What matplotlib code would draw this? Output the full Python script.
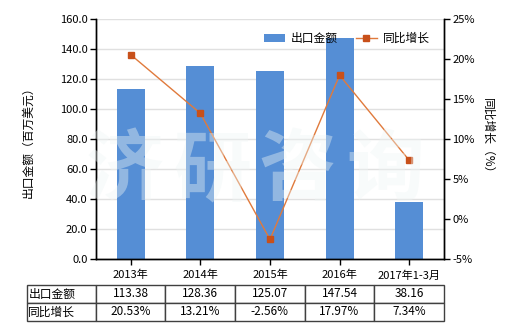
import matplotlib
matplotlib.use("Agg")
import matplotlib.pyplot as plt
import numpy as np

plt.rcParams['font.family'] = ['Noto Sans CJK SC', 'DejaVu Sans']

# data
years = ['2013年', '2014年', '2015年', '2016年', '2017年1-3月']
export_value = [113.38, 128.36, 125.07, 147.54, 38.16]
yoy_growth = [20.53, 13.21, -2.56, 17.97, 7.34]
value_labels = ['113.38', '128.36', '125.07', '147.54', '38.16']
growth_labels = ['20.53%', '13.21%', '-2.56%', '17.97%', '7.34%']

bar_color = '#558ED5'
line_color = '#E07A3C'
marker_color = '#C8501A'

fig = plt.figure(figsize=(5.2, 3.3), dpi=100)
ax = fig.add_axes([0.1846, 0.2152, 0.6692, 0.7272])
ax2 = ax.twinx()

x = np.arange(len(years))
bars = ax.bar(x, export_value, width=0.4, color=bar_color, zorder=2,
              label='出口金额')
ax.set_ylim(0, 160)
ax.set_yticks(np.arange(0, 161, 20))
ax.set_yticklabels([f'{v:.1f}' for v in np.arange(0, 161, 20)])
ax.set_xlim(-0.5, len(years) - 0.5)
ax.set_xticks(x)
ax.set_xticklabels(years)
ax.yaxis.grid(True, color='#E0E0E0', linewidth=1, zorder=0)
ax.set_axisbelow(True)

line, = ax2.plot(x, yoy_growth, color=line_color, linewidth=1,
                 marker='s', markersize=5, markerfacecolor=marker_color,
                 markeredgecolor=marker_color, zorder=3, label='同比增长')
ax2.set_ylim(-5, 25)
ax2.set_yticks(np.arange(-5, 26, 5))
ax2.set_yticklabels([f'{v}%' for v in range(-5, 26, 5)])

for a in (ax, ax2):
    a.spines['top'].set_visible(False)
    for s in a.spines.values():
        s.set_linewidth(1)
        s.set_color('black')
    a.tick_params(labelsize=8, length=4, width=1, colors='black')
ax.tick_params(axis='x', pad=4)
ax.tick_params(axis='y', pad=2)
ax2.tick_params(axis='y', pad=2)

ax.set_ylabel('出口金额（百万美元）', fontsize=8.5, labelpad=18)
ax2.set_ylabel('同比增长（%）', fontsize=8.5, rotation=270, labelpad=14)

# legend
ax.legend(handles=[bars, line], loc='upper right', bbox_to_anchor=(0.99, 0.99),
          ncol=2, frameon=False, fontsize=8.5, handlelength=1.8,
          handletextpad=0.5, columnspacing=1.5)

# data table under the axes
cells = [['出口金额'] + value_labels, ['同比增长'] + growth_labels]
tbl = ax.table(cellText=cells, cellLoc='center',
               bbox=[-0.198, -0.258, 1.198, 0.15],
               colWidths=[69] + [70] * len(years))
tbl.auto_set_font_size(False)
tbl.set_fontsize(8.5)
for (r, c), cell in tbl.get_celld().items():
    cell.set_edgecolor('#404040')
    cell.set_linewidth(1)
    if c == 0:
        cell.set_text_props(ha='left')
        cell.PAD = 0.02

# watermark
for ch, xc in zip('济研咨询', [0.240, 0.408, 0.571, 0.740]):
    fig.text(xc, 0.48, ch, fontsize=56, fontweight='bold', color='#EEF5F5',
             alpha=0.4, ha='center', va='center', zorder=10)

fig.savefig('out.png', dpi=100)
